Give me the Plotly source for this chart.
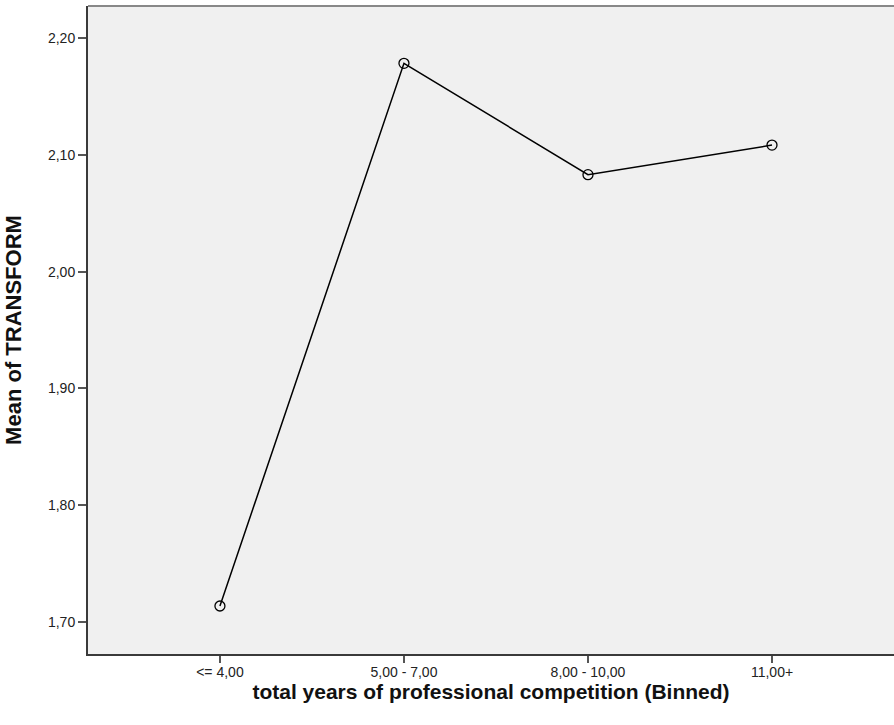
import plotly.graph_objects as go

categories = ["<= 4,00", "5,00 - 7,00", "8,00 - 10,00", "11,00+"]
means = [1.7137, 2.1783, 2.0830, 2.1083]
y_tick_vals = [1.70, 1.80, 1.90, 2.00, 2.10, 2.20]
y_tick_text = ["1,70", "1,80", "1,90", "2,00", "2,10", "2,20"]

fig = go.Figure()
fig.add_trace(go.Scatter(
    x=categories, y=means, mode="lines+markers",
    line=dict(color="black", width=1.5),
    marker=dict(symbol="circle-open", size=10, color="black", line=dict(width=1.3)),
    showlegend=False, cliponaxis=False,
))

fig.update_layout(
    width=894, height=725,
    margin=dict(l=88, r=0, t=6, b=71),
    paper_bgcolor="white", plot_bgcolor="#F0F0F0",
    font=dict(family="Liberation Sans, Arial, sans-serif", size=14, color="#222"),
    xaxis=dict(
        type="category", range=[-0.717, 3.663],
        showline=True, linecolor="#3a3a3a", linewidth=2,
        ticks="outside", ticklen=7, tickwidth=2, tickcolor="#555",
        ticklabelstandoff=-3,
        showgrid=False, zeroline=False,
        title=dict(text="<b>total years of professional competition (Binned)</b>",
                   font=dict(size=21, color="#111"), standoff=3),
    ),
    yaxis=dict(
        range=[1.6726, 2.2274], tickvals=y_tick_vals, ticktext=y_tick_text,
        showline=True, linecolor="#3a3a3a", linewidth=2,
        ticks="outside", ticklen=8, tickwidth=2, tickcolor="#555",
        showgrid=False, zeroline=False,
        title=dict(text="<b>Mean of TRANSFORM</b>", font=dict(size=22, color="#111"), standoff=20),
    ),
    shapes=[dict(type="line", xref="paper", yref="paper", x0=0, x1=1, y0=1, y1=1,
                 line=dict(color="#888", width=2))],
)

fig.write_html("out.html", config={"displayModeBar": False},
               post_script="document.body.style.margin='0';document.body.style.overflow='hidden';")
